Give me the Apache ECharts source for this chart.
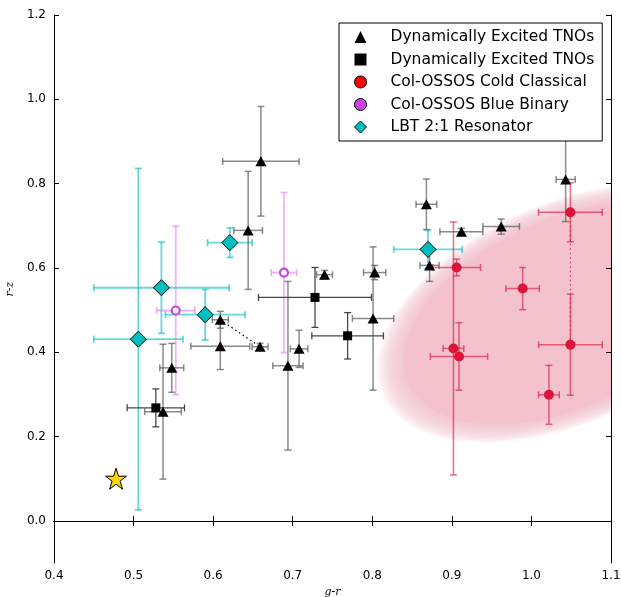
<!DOCTYPE html>
<html><head><meta charset="utf-8">
<script src="https://cdn.jsdelivr.net/npm/echarts@6/dist/echarts.min.js"></script>
<style>html,body{margin:0;padding:0;background:#fff}#c{width:621px;height:597px}</style>
</head><body><div id="c"></div>
<script>
// ---- data ----
const xTicks = [0.4, 0.5, 0.6, 0.7, 0.8, 0.9, 1.0, 1.1];
const yTicks = [0.0, 0.2, 0.4, 0.6, 0.8, 1.0, 1.2];

// Dynamically excited TNOs (triangles): x, y, xerr, yerr
const triX    = [0.660, 0.644, 0.609, 0.609, 0.659, 0.548, 0.537, 0.694, 0.708, 0.740, 0.803, 0.801, 0.868, 0.872, 0.912, 0.962, 1.043];
const triY    = [0.853, 0.689, 0.477, 0.414, 0.413, 0.363, 0.259, 0.368, 0.408, 0.584, 0.589, 0.480, 0.751, 0.606, 0.686, 0.698, 0.810];
const triXerr = [0.048, 0.018, 0.010, 0.037, 0.010, 0.015, 0.023, 0.019, 0.011, 0.010, 0.014, 0.026, 0.013, 0.012, 0.027, 0.023, 0.012];
const triYerr = [0.130, 0.140, 0.020, 0.055, 0.008, 0.058, 0.160, 0.200, 0.044, 0.010, 0.017, 0.170, 0.060, 0.038, 0.008, 0.018, 0.100];

// Dynamically excited TNOs (squares)
const sqX    = [0.728, 0.769, 0.528];
const sqY    = [0.530, 0.439, 0.268];
const sqXerr = [0.071, 0.045, 0.036];
const sqYerr = [0.071, 0.055, 0.045];

// Col-OSSOS cold classicals
const ccX    = [1.049, 0.906, 0.902, 0.909, 0.989, 1.049, 1.022];
const ccY    = [0.732, 0.601, 0.409, 0.390, 0.551, 0.418, 0.299];
const ccXerr = [0.040, 0.030, 0.013, 0.036, 0.021, 0.040, 0.013];
const ccYerr = [0.070, 0.020, 0.300, 0.080, 0.050, 0.120, 0.070];

// Col-OSSOS blue binary
const bbX    = [0.553, 0.689];
const bbY    = [0.499, 0.589];
const bbXerr = [0.024, 0.016];
const bbYerr = [0.200, 0.190];

// LBT 2:1 resonator
const lbtX    = [0.621, 0.535, 0.590, 0.506, 0.870];
const lbtY    = [0.660, 0.553, 0.489, 0.431, 0.644];
const lbtXerr = [0.028, 0.085, 0.050, 0.056, 0.043];
const lbtYerr = [0.035, 0.108, 0.060, 0.405, 0.045];

// Sun colour (star)
const sunPt = [0.478, 0.100];

// pairs joined by dotted lines
const pairTri = [[0.609, 0.477], [0.659, 0.413]];
const pairCC  = [[1.049, 0.732], [1.049, 0.418]];

// cold-classical region: centre x, centre y, semi-major, semi-minor (x-axis units), tilt deg
const regionCC = [1.043, 0.492, 0.252, 0.138, 24];

// ---- helpers ----
function zip(x, y, xe, ye) { return x.map((v, i) => [v, y[i], xe[i], ye[i]]); }

function errSeries(name, data, color, width, z) {
  return {
    name: name, type: 'custom', z: z, silent: true, clip: false,
    data: data,
    renderItem: function (params, api) {
      const x = api.value(0), y = api.value(1), xe = api.value(2), ye = api.value(3);
      const c = api.coord([x, y]);
      const l = api.coord([x - xe, y]), r = api.coord([x + xe, y]);
      const t = api.coord([x, y + ye]), b = api.coord([x, y - ye]);
      const st = { stroke: color, lineWidth: width, fill: null };
      const cap = 3.5;
      return { type: 'group', children: [
        { type: 'line', shape: { x1: l[0], y1: c[1], x2: r[0], y2: c[1] }, style: st },
        { type: 'line', shape: { x1: l[0], y1: c[1] - cap, x2: l[0], y2: c[1] + cap }, style: st },
        { type: 'line', shape: { x1: r[0], y1: c[1] - cap, x2: r[0], y2: c[1] + cap }, style: st },
        { type: 'line', shape: { x1: c[0], y1: t[1], x2: c[0], y2: b[1] }, style: st },
        { type: 'line', shape: { x1: c[0] - cap, y1: t[1], x2: c[0] + cap, y2: t[1] }, style: st },
        { type: 'line', shape: { x1: c[0] - cap, y1: b[1], x2: c[0] + cap, y2: b[1] }, style: st }
      ]};
    }
  };
}

const N1 = 'Dynamically Excited TNOs';
const N2 = 'Dynamically Excited TNOs ';
const N3 = 'Col-OSSOS Cold Classical';
const N4 = 'Col-OSSOS Blue Binary';
const N5 = 'LBT 2:1 Resonator';

const axisCommon = {
  type: 'value',
  axisLine: { lineStyle: { color: '#000', width: 1 } },
  splitLine: { show: false },
  axisTick: { inside: true, length: 5, lineStyle: { color: '#000' } }
};

const chart = echarts.init(document.getElementById('c'), null, { renderer: 'canvas' });
chart.setOption({
  animation: false,
  backgroundColor: '#fff',
  grid: { left: 54, right: 10, top: 15, bottom: 34, outerBoundsMode: 'none', containLabel: false },
  xAxis: [
    Object.assign({}, axisCommon, {
      min: 0.4, max: 1.1, position: 'bottom',
      axisTick: { inside: true, length: 5, lineStyle: { color: '#000' }, customValues: xTicks },
      axisLabel: { customValues: xTicks, formatter: v => v.toFixed(1), color: '#000', fontSize: 12, fontFamily: 'DejaVu Sans', margin: 7 },
      name: 'g-r', nameLocation: 'middle', nameGap: 17,
      nameTextStyle: { fontFamily: 'DejaVu Serif', fontStyle: 'italic', fontSize: 11, color: '#000' }
    }),
    Object.assign({}, axisCommon, {
      min: 0.4, max: 1.1, position: 'top',
      axisTick: { inside: true, length: 5, lineStyle: { color: '#000' }, customValues: xTicks },
      axisLabel: { show: false }
    })
  ],
  yAxis: [
    Object.assign({}, axisCommon, {
      min: -0.1, max: 1.2, position: 'left',
      axisTick: { inside: true, length: 5, lineStyle: { color: '#000' }, customValues: yTicks },
      axisLabel: { customValues: yTicks, formatter: v => v.toFixed(1), color: '#000', fontSize: 12, fontFamily: 'DejaVu Sans', margin: 8 },
      name: 'r-z', nameLocation: 'middle', nameGap: 34,
      nameTextStyle: { fontFamily: 'DejaVu Serif', fontStyle: 'italic', fontSize: 11, color: '#000' }
    }),
    Object.assign({}, axisCommon, {
      min: -0.1, max: 1.2, position: 'right',
      axisTick: { inside: true, length: 5, lineStyle: { color: '#000' }, customValues: yTicks },
      axisLabel: { show: false }
    })
  ],
  legend: {
    orient: 'vertical', left: 339, top: 23,
    padding: [6, 3, 6, 15],
    backgroundColor: '#fff', borderColor: '#000', borderWidth: 1, borderRadius: 0,
    itemWidth: 12, itemHeight: 12, itemGap: 6.5,
    textStyle: { fontFamily: 'DejaVu Sans', fontSize: 15.5, color: '#000', padding: [0, 0, 0, 19] },
    selectedMode: false,
    data: [
      { name: N1, icon: 'triangle', itemStyle: { color: '#000' } },
      { name: N2, icon: 'rect', itemStyle: { color: '#000' } },
      { name: N3, icon: 'circle', itemStyle: { color: '#ff0000', borderColor: '#000', borderWidth: 1 } },
      { name: N4, icon: 'circle', itemStyle: { color: '#cc44e6', borderColor: '#000', borderWidth: 1 } },
      { name: N5, icon: 'diamond', itemStyle: { color: '#00bfbf', borderColor: '#000', borderWidth: 1 } }
    ]
  },
  series: [
    {
      name: 'region', type: 'custom', z: 0, silent: true, clip: true,
      data: [regionCC],
      renderItem: function (params, api) {
        const c = api.coord([api.value(0), api.value(1)]);
        const pxPerX = api.size([1, 0])[0];
        const a0 = api.value(2) * pxPerX, b0 = api.value(3) * pxPerX;
        const ang = api.value(4) * Math.PI / 180;
        function ell(s) {
          const pts = [];
          for (let i = 0; i < 120; i++) {
            const t = i / 120 * 2 * Math.PI;
            const u = a0 * s * Math.cos(t), v = b0 * s * Math.sin(t);
            pts.push([c[0] + u * Math.cos(ang) + v * Math.sin(ang), c[1] - u * Math.sin(ang) + v * Math.cos(ang)]);
          }
          return pts;
        }
        const layers = [];
        const L = 10;
        for (let k = 0; k < L; k++) {
          layers.push({ type: 'polygon', shape: { points: ell(1 - k * 0.014) }, style: { fill: 'rgba(243,194,204,0.16)' } });
        }
        layers.push({ type: 'polygon', shape: { points: ell(1 - L * 0.014) }, style: { fill: '#f3c2cc' } });
        return { type: 'group', children: layers };
      }
    },
    errSeries(N5, zip(lbtX, lbtY, lbtXerr, lbtYerr), 'rgba(0,190,190,0.6)', 1.8, 2),
    errSeries(N4, zip(bbX, bbY, bbXerr, bbYerr), 'rgba(220,90,235,0.45)', 1.8, 2),
    errSeries(N3, zip(ccX, ccY, ccXerr, ccYerr), 'rgba(220,20,60,0.62)', 1.5, 2),
    errSeries(N1, zip(triX, triY, triXerr, triYerr), 'rgba(90,90,90,0.7)', 1.5, 3),
    errSeries(N2, zip(sqX, sqY, sqXerr, sqYerr), 'rgba(40,40,40,0.85)', 1.3, 3),
    {
      name: 'pairTri', type: 'line', z: 3, silent: true, symbol: 'none',
      data: pairTri, lineStyle: { color: '#000', width: 1.2, type: [1.5, 3] }
    },
    {
      name: 'pairCC', type: 'line', z: 3, silent: true, symbol: 'none',
      data: pairCC, lineStyle: { color: 'rgba(220,20,60,0.8)', width: 1.2, type: [1.5, 3] }
    },
    {
      name: N5, type: 'scatter', z: 5, symbol: 'diamond', symbolSize: 16,
      data: lbtX.map((v, i) => [v, lbtY[i]]),
      itemStyle: { color: '#00bfbf', borderColor: '#000', borderWidth: 1, opacity: 1 }
    },
    {
      name: N4, type: 'scatter', z: 5, symbol: 'circle', symbolSize: 8,
      data: bbX.map((v, i) => [v, bbY[i]]),
      itemStyle: { color: '#fff', borderColor: '#cc44e6', borderWidth: 2.2, opacity: 1 }
    },
    {
      name: N3, type: 'scatter', z: 5, symbol: 'circle', symbolSize: 10,
      data: ccX.map((v, i) => [v, ccY[i]]),
      itemStyle: { color: '#dc143c', opacity: 1 }
    },
    {
      name: N1, type: 'scatter', z: 6, symbol: 'triangle', symbolSize: [11, 10],
      data: triX.map((v, i) => [v, triY[i]]),
      itemStyle: { color: '#000', opacity: 1 }
    },
    {
      name: N2, type: 'scatter', z: 6, symbol: 'rect', symbolSize: 9,
      data: sqX.map((v, i) => [v, sqY[i]]),
      itemStyle: { color: '#000', opacity: 1 }
    },
    {
      name: 'Sun', type: 'scatter', z: 6,
      symbol: 'path://M50,0 L61.2,34.5 L97.6,34.5 L68.2,55.9 L79.4,90.5 L50,69.1 L20.6,90.5 L31.8,55.9 L2.4,34.5 L38.8,34.5 Z',
      symbolSize: 21,
      data: [sunPt],
      itemStyle: { color: '#ffd700', borderColor: '#000', borderWidth: 1, opacity: 1 }
    }
  ]
});
</script>
</body></html>
